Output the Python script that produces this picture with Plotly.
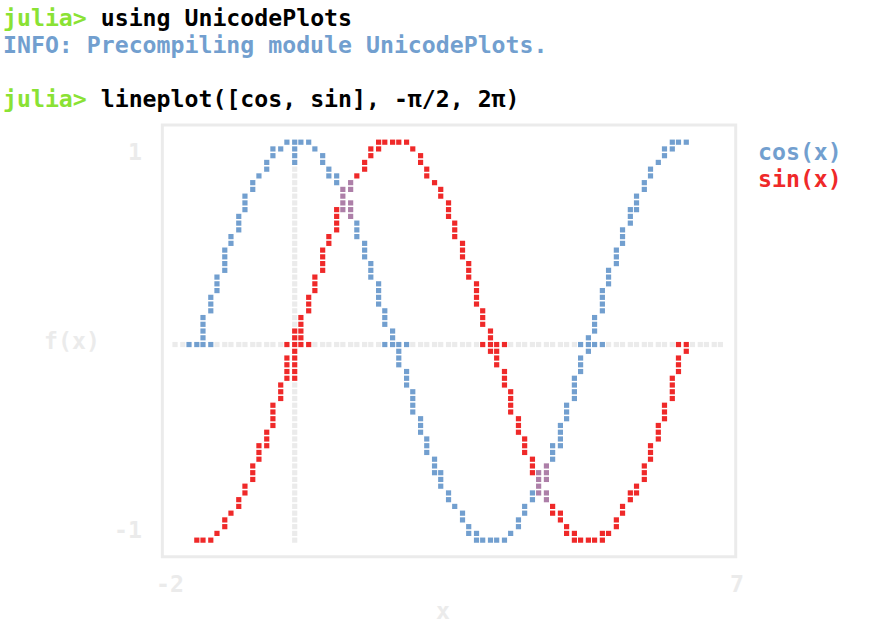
import plotly.graph_objects as go

# ---------------- data (read from the braille canvas: 80 x 60 dots) ----------------
# For every dot column starting at *_start_col, the top-most and bottom-most lit dot row.
cos_start_col = 3
cos_top = [30, 26, 23, 20, 16, 14, 11, 8, 6, 5, 3, 1, 1, 0, 0, 0, 0, 1, 2, 4,
           5, 7, 9, 12, 15, 18, 21, 25, 28, 31, 34, 37, 41, 44, 47, 49, 52, 54, 55, 57,
           58, 59, 59, 59, 59, 58, 56, 54, 52, 51, 48, 45, 42, 39, 35, 32, 29, 26, 22, 19,
           16, 13, 10, 8, 6, 4, 3, 1, 0, 0, 0]
cos_bottom = [30, 29, 25, 22, 19, 15, 13, 10, 7, 5, 4, 2, 1, 0, 0, 0, 0, 1, 3, 5,
              6, 8, 11, 14, 17, 20, 24, 27, 30, 33, 36, 40, 43, 46, 49, 51, 53, 54, 56, 58,
              59, 59, 59, 59, 59, 58, 57, 55, 53, 52, 50, 47, 45, 41, 38, 34, 31, 28, 25, 21,
              18, 15, 12, 10, 7, 5, 3, 2, 1, 0, 0]

sin_start_col = 3
sin_top = [59, 59, 59, 58, 56, 55, 53, 51, 48, 45, 43, 39, 36, 32, 30, 26, 23, 20, 16, 14,
           10, 8, 6, 5, 3, 1, 0, 0, 0, 0, 0, 1, 2, 4, 6, 7, 9, 12, 15, 18,
           21, 25, 28, 31, 34, 37, 41, 44, 47, 49, 52, 54, 55, 57, 58, 59, 59, 59, 58, 58,
           56, 54, 52, 51, 48, 45, 42, 39, 35, 32, 30]
sin_bottom = [59, 59, 59, 58, 57, 55, 54, 52, 50, 47, 45, 42, 38, 35, 31, 29, 25, 22, 19, 15,
              13, 10, 7, 5, 4, 2, 1, 0, 0, 0, 0, 1, 3, 5, 6, 8, 11, 14, 17, 20,
              24, 27, 31, 33, 36, 40, 43, 46, 49, 51, 53, 55, 56, 58, 59, 59, 59, 59, 59, 58,
              57, 55, 53, 52, 50, 47, 44, 41, 38, 34, 31]

zero_row = 30            # dot row of y = 0
zero_row_cols = (0, 78)  # extent of the y = 0 dotted line
zero_col = 17            # dot column of x = 0
zero_col_rows = (0, 59)  # extent of the x = 0 dotted line

series_names = ["cos(x)", "sin(x)"]
y_tick_labels = ["1", "-1"]
x_tick_labels = ["-2", "7"]
x_label = "x"
y_label = "f(x)"

prompt_lines = [
    ("julia>", " using UnicodePlots"),
    ("INFO: Precompiling module UnicodePlots.", None),
    ("julia>", " lineplot([cos, sin], -π/2, 2π)"),
]

# ---------------- styling / terminal geometry ----------------
W, H = 879, 636
CW = 13.985          # character advance (px)
LH = 26.98           # line height (px)
X_MARGIN = 1.5
def col_left(k):     # left edge of terminal column k
    return X_MARGIN + k * CW
def line_mid(n):     # vertical centre of terminal line n
    return 125.0 + (n - 4) * LH

CANVAS_COL0 = 12     # first terminal column of the canvas
CANVAS_LINE0 = 5     # first terminal line of the canvas
DOT_XOFF = [5.7, 13.5]
DOT_YOFF = [3.7 + 6.745 * i for i in range(4)]

BLUE = "#729fcf"
RED = "#ef2929"
MAGENTA = "#ad7fa8"
GREEN = "#8ae234"
FAINT = "#ebebeb"
FONT = "DejaVu Sans Mono"
FS = 23.2

# ---------------- rasterise into braille cells ----------------
pts = {}
def add(c, r, s):
    pts.setdefault((c, r), set()).add(s)

for i, (t, b) in enumerate(zip(cos_top, cos_bottom)):
    for r in range(t, b + 1):
        add(cos_start_col + i, r, "cos")
for i, (t, b) in enumerate(zip(sin_top, sin_bottom)):
    for r in range(t, b + 1):
        add(sin_start_col + i, r, "sin")
for c in range(zero_row_cols[0], zero_row_cols[1] + 1):
    add(c, zero_row, "axis")
for r in range(zero_col_rows[0], zero_col_rows[1] + 1):
    add(zero_col, r, "axis")

cells = {}
for (c, r), s in pts.items():
    cells.setdefault((c // 2, r // 4), set()).update(s)

def cell_color(cell):
    s = cells[cell] - {"axis"}
    if "cos" in s and "sin" in s:
        return MAGENTA
    if "cos" in s:
        return BLUE
    if "sin" in s:
        return RED
    return FAINT

groups = {}
for (c, r) in pts:
    col = cell_color((c // 2, r // 4))
    px = col_left(CANVAS_COL0 + c // 2) + DOT_XOFF[c % 2]
    py = line_mid(CANVAS_LINE0) - LH / 2 + (r // 4) * LH + DOT_YOFF[r % 4]
    groups.setdefault(col, ([], []))
    groups[col][0].append(px)
    groups[col][1].append(py)

fig = go.Figure()
for col in [FAINT, BLUE, RED, MAGENTA]:
    if col in groups:
        xs, ys = groups[col]
        fig.add_trace(go.Scatter(
            x=xs, y=ys, mode="markers", hoverinfo="skip", showlegend=False,
            marker=dict(symbol="square", size=5.2, color=col, line=dict(width=0)),
        ))

# border box (drawn through the middle of the border characters)
bx0 = col_left(11) + CW / 2
bx1 = col_left(52) + CW / 2
by0 = line_mid(4)
by1 = line_mid(20)
fig.add_shape(type="rect", x0=bx0, x1=bx1, y0=by0, y1=by1, xref="x", yref="y",
              line=dict(color=FAINT, width=3), layer="below")

SHIFT = 40  # anchor annotations inside the axis range, then shift back (px)
def text(s, k, n, color="#000000"):
    fig.add_annotation(x=col_left(k) + SHIFT, xshift=-SHIFT, y=line_mid(n),
                       xref="x", yref="y", text=s,
                       showarrow=False, xanchor="left", yanchor="middle",
                       font=dict(family=FONT, size=FS, color=color, weight="bold"),
                       borderpad=0)

# prompt lines
text(f"<span style='color:{GREEN}'>{prompt_lines[0][0]}</span>{prompt_lines[0][1]}", 0, 0)
text(prompt_lines[1][0], 0, 1, BLUE)
text(f"<span style='color:{GREEN}'>{prompt_lines[2][0]}</span>{prompt_lines[2][1]}", 0, 3)

# axis labels / ticks
text(y_tick_labels[0], 10 - len(y_tick_labels[0]), 5, FAINT)
text(y_tick_labels[1], 10 - len(y_tick_labels[1]), 19, FAINT)
text(y_label, 3, 12, FAINT)
text(x_tick_labels[0], 11, 21, FAINT)
text(x_tick_labels[1], 53 - len(x_tick_labels[1]), 21, FAINT)
text(x_label, 31, 22, FAINT)

# series names
text(series_names[0], 54, 5, BLUE)
text(series_names[1], 54, 6, RED)

fig.update_layout(
    width=W, height=H, autosize=False,
    margin=dict(l=0, r=0, t=0, b=0),
    paper_bgcolor="white", plot_bgcolor="white",
    xaxis=dict(range=[0, W], visible=False, fixedrange=True),
    yaxis=dict(range=[H, 0], visible=False, fixedrange=True),
    showlegend=False,
)
fig.write_html(
    "out.html",
    config={"displayModeBar": False},
    post_script="document.body.style.margin='0px';document.body.style.overflow='hidden';",
)
